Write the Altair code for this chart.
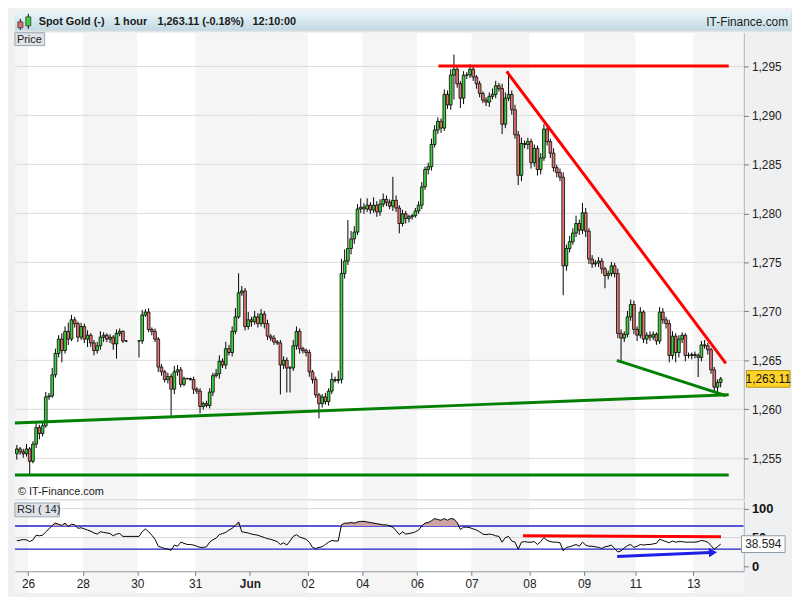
import altair as alt
import pandas as pd

# ---------------- data ----------------
closes = [
    1255.96, 1255.67, 1255.47, 1255.96, 1254.69, 1256.45, 1258.13, 1257.54, 1258.32, 1261.27,
    1261.37, 1263.53, 1265.70, 1267.17, 1266.00, 1267.96, 1267.17, 1269.14, 1268.75, 1267.37,
    1268.45, 1267.17, 1267.57, 1266.78, 1266.00, 1266.49, 1267.37, 1267.57, 1267.17, 1267.37,
    1266.68, 1267.76, 1267.96, 1266.98, 1266.98, None, None, None, 1266.98, 1269.63,
    1269.93, 1268.16, 1267.96, 1267.17, 1264.32, 1263.83, 1263.04, 1263.34, 1262.06, 1263.83,
    1264.03, 1262.55, 1263.14, 1263.14, 1263.04, 1262.06, 1261.86, 1260.29, 1260.58, 1260.39,
    1261.76, 1263.44, 1263.63, 1264.91, 1264.52, 1266.19, 1265.80, 1267.96, 1269.44, 1271.89,
    1272.09, 1268.45, 1269.14, 1268.94, 1269.44, 1268.75, 1269.73, 1268.75, 1267.47, 1267.27,
    1266.88, 1266.78, 1264.52, 1265.01, 1264.22, 1264.22, 1266.49, 1267.96, 1266.19, 1266.00,
    1265.80, 1263.83, 1263.04, 1261.47, 1260.58, 1261.27, 1260.78, 1261.86, 1263.04, 1262.94,
    1263.04, 1273.86, 1275.14, 1276.42, 1277.40, 1278.09, 1280.45, 1280.64, 1280.45, 1280.84,
    1280.35, 1280.84, 1280.15, 1280.94, 1281.43, 1281.14, 1280.74, 1281.33, 1280.55, 1278.97,
    1279.96, 1279.47, 1279.66, 1279.76, 1280.25, 1280.84, 1282.71, 1284.48, 1284.77, 1287.04,
    1288.51, 1289.40, 1288.71, 1292.15, 1291.07, 1294.12, 1294.71, 1293.23, 1291.76, 1294.12,
    1294.12, 1294.71, 1293.92, 1293.23, 1292.25, 1291.56, 1291.36, 1291.95, 1292.15, 1293.03,
    1292.74, 1289.10, 1291.76, 1292.15, 1290.58, 1288.02, 1283.89, 1287.14, 1287.04, 1287.33,
    1285.17, 1286.64, 1284.48, 1285.66, 1288.61, 1287.33, 1286.15, 1284.67, 1284.18, 1283.69,
    1274.65, 1276.42, 1277.11, 1277.99, 1278.97, 1278.29, 1280.06, 1278.19, 1275.34, 1274.84,
    1274.94, 1275.14, 1274.35, 1273.66, 1273.86, 1274.65, 1273.86, 1267.76, 1267.27, 1267.66,
    1269.44, 1270.71, 1268.16, 1267.57, 1269.93, 1267.17, 1267.57, 1267.37, 1267.66, 1266.98,
    1269.93, 1269.14, 1268.75, 1265.50, 1267.47, 1265.80, 1267.17, 1267.57, 1265.50, 1265.50,
    1265.60, 1265.50, 1265.30, 1266.58, 1266.49, 1266.09, 1264.03, 1262.26, 1262.75, 1263.11,
]
first_open = 1255.47

wick_up = [
    0.4, 0.2, 0.3, 0.5, 0.2, 0.3, 0.6, 0.3, 0.4, 0.5,
    0.3, 0.7, 0.5, 0.4, 0.6, 0.5, 0.9, 0.5, 0.3, 0.2,
    0.4, 0.3, 0.5, 0.2, 0.3, 0.4, 0.6, 0.3, 0.2, 0.3,
    0.2, 0.4, 0.3, 0.1, 0.1, 0, 0, 0, 0.1, 0.5,
    0.3, 0.4, 0.2, 0.3, 0.2, 0.3, 0.2, 0.4, 0.3, 0.6,
    0.5, 0.3, 0.2, 0.1, 0.1, 0.3, 0.2, 0.3, 0.2, 0.3,
    0.4, 0.3, 0.5, 0.6, 0.3, 0.7, 0.4, 0.5, 0.9, 2.0,
    0.5, 0.3, 0.8, 0.3, 0.6, 0.4, 0.5, 0.3, 0.4, 0.2,
    0.3, 0.2, 0.3, 0.4, 0.3, 0.2, 0.6, 0.5, 0.3, 0.2,
    0.2, 0.3, 0.2, 0.3, 0.2, 0.3, 0.4, 0.3, 0.7, 0.3,
    0.9, 1.5, 1.2, 2.9, 0.8, 0.6, 0.5, 0.9, 0.4, 0.7,
    0.3, 0.8, 0.4, 0.5, 0.6, 0.4, 0.3, 2.4, 0.5, 0.3,
    0.4, 0.3, 0.2, 0.2, 0.3, 0.4, 0.5, 0.3, 0.4, 0.6,
    0.5, 0.4, 0.3, 0.5, 0.4, 0.6, 1.5, 0.4, 0.3, 0.4,
    0.3, 0.5, 0.3, 0.2, 0.3, 0.2, 0.3, 0.4, 0.6, 0.5,
    0.3, 0.5, 0.6, 2.3, 0.4, 0.5, 0.4, 0.6, 0.3, 0.4,
    0.3, 0.4, 0.3, 0.5, 0.5, 0.4, 0.3, 0.5, 0.3, 0.4,
    0.5, 0.4, 0.6, 0.5, 0.8, 0.4, 1.0, 0.5, 0.3, 0.4,
    0.3, 0.4, 0.3, 0.2, 0.3, 0.4, 0.3, 0.5, 0.4, 0.3,
    0.6, 0.5, 0.4, 0.3, 0.5, 0.2, 0.3, 0.4, 0.3, 0.2,
    0.5, 0.4, 0.3, 0.4, 0.5, 0.3, 0.4, 0.3, 0.2, 0.3,
    0.2, 0.3, 0.2, 0.4, 0.5, 0.3, 0.2, 0.3, 0.3, 0.2,
]
wick_dn = [
    0.6, 0.3, 0.4, 0.3, 1.3, 0.2, 0.4, 0.6, 0.3, 0.2,
    0.3, 0.2, 0.3, 0.4, 1.2, 0.3, 0.6, 0.2, 0.4, 0.5,
    0.3, 0.4, 0.8, 0.4, 0.5, 0.3, 0.4, 0.5, 0.3, 0.4,
    0.6, 1.5, 0.3, 0.2, 0.1, 0, 0, 0, 1.7, 0.3,
    0.2, 0.3, 0.4, 0.3, 0.5, 0.4, 0.3, 0.4, 2.7, 0.5,
    0.4, 0.3, 0.2, 0.1, 0.1, 0.5, 0.3, 0.7, 0.3, 0.2,
    0.3, 0.4, 0.2, 0.5, 0.3, 0.4, 0.3, 0.4, 0.3, 0.2,
    0.3, 0.4, 0.3, 0.5, 0.3, 0.4, 0.3, 0.5, 0.4, 0.3,
    0.3, 0.2, 3.0, 0.4, 2.5, 2.5, 0.3, 0.4, 0.5, 0.3,
    0.4, 0.5, 0.4, 0.3, 1.5, 0.4, 0.3, 0.4, 0.3, 0.2,
    0.3, 0.4, 0.5, 0.4, 0.6, 0.5, 0.3, 0.4, 0.5, 0.3,
    0.4, 0.3, 0.5, 0.4, 0.3, 0.4, 0.3, 0.5, 0.4, 1.0,
    0.3, 0.5, 0.4, 0.3, 0.2, 0.3, 0.4, 0.3, 0.5, 0.4,
    0.3, 0.4, 0.5, 0.3, 0.4, 0.5, 2.5, 0.4, 1.0, 0.6,
    0.4, 0.3, 0.4, 0.5, 0.4, 0.3, 0.4, 0.5, 0.3, 0.4,
    0.3, 1.0, 0.4, 0.3, 0.5, 0.4, 1.0, 0.6, 0.4, 0.5,
    0.6, 0.4, 0.6, 0.5, 0.3, 0.4, 0.5, 0.4, 0.5, 0.4,
    3.0, 0.5, 0.4, 0.3, 0.4, 0.5, 0.4, 0.6, 0.5, 0.4,
    0.3, 0.4, 0.5, 1.3, 0.4, 0.3, 0.4, 0.5, 2.3, 0.4,
    0.3, 0.4, 0.5, 0.6, 0.3, 0.4, 0.5, 0.4, 0.3, 0.4,
    0.3, 0.4, 0.5, 0.7, 0.4, 1.0, 0.5, 0.4, 0.6, 0.3,
    0.4, 0.3, 2.0, 0.4, 0.3, 0.5, 0.4, 0.4, 0.5, 0.5,
]
rsi_vals = [
    44.5, 45.5, 46.5, 46, 43, 46, 54, 53, 54, 60,
    65, 71, 75, 73, 71, 75, 69, 73, 72, 66,
    67, 65, 63, 61, 58, 56, 60, 59, 58, 57,
    53, 56, 57, 52, 52, None, None, None, 52, 60,
    65, 60, 54, 47, 35, 33, 31, 30, 28, 37,
    35, 42, 40, 38, 38, 37, 35, 33, 33, 34,
    42, 46, 49, 55, 57, 59, 63, 66, 71, 77,
    60, 59, 58, 56, 55, 54, 52, 50, 48, 47,
    45, 43, 38, 41, 37, 44, 52, 55, 51, 49,
    47, 42, 33, 31, 33, 34, 38, 42, 45, 44,
    44, 72, 75, 75, 76, 75, 77, 78, 78, 77,
    76, 75, 74, 73, 72, 72, 70, 68, 62, 55,
    60, 56, 57, 58, 60, 63, 70, 75, 76, 79,
    83, 81, 80, 83, 80, 83, 82, 76, 64, 68,
    68, 67, 65, 63, 60, 56, 55, 56, 55, 53,
    52, 42, 50, 52, 44, 42, 30, 42, 43, 42,
    42, 43, 38, 43, 50, 45, 43, 42, 42, 41,
    27, 33, 34, 36, 38, 35, 42, 37, 35, 35,
    34, 33, 31, 34, 35, 37, 31, 25, 27, 32,
    36, 38, 33, 35, 38, 37, 38, 38, 39, 40,
    47, 45, 43, 41, 44, 42, 43, 43, 42, 42,
    42, 42, 43, 45, 44, 42, 36, 30, 34, 38.594,
]

day_start = [3.5, 20.5, 37.5, 55.5, 72.5, 90.5, 107.5, 124.5, 141.5, 159.5, 176.5, 192.5, 210.5]
day_labels = ["26", "28", "30", "31", "Jun", "02", "04", "06", "07", "08", "09", "11", "13"]
day_shaded = [False, True, False, True, True, False, True, False, True, False, True, False, True]
first_day_shaded = True

price_ticks = [1255, 1260, 1265, 1270, 1275, 1280, 1285, 1290, 1295]
rsi_ticks = [0, 50, 100]
rsi_levels = [70, 30]
rsi_grid = [100, 50]
last_price = 1263.11
last_rsi = 38.594

# trend lines drawn on the price panel
tl_seg = ["top", "top", "fall", "fall", "rise", "rise", "floor", "floor", "wedge", "wedge"]
tl_i = [131.2, 221.5, 152.4, 220.6, -0.6, 221.5, -0.6, 221.5, 186.7, 220.6]
tl_p = [1295.05, 1295.05, 1294.5, 1264.7, 1258.6, 1261.5, 1253.3, 1253.3, 1265.0, 1261.4]
tl_col = ["#ff0000"] * 4 + ["#008000"] * 6

# lines on the RSI panel
rl_seg = ["red", "red", "blue", "blue"]
rl_i = [157.5, 219.1, 186.8, 215.8]
rl_v = [53.3, 51.5, 17.2, 24.2]
rl_col = ["#ff0000", "#ff0000", "#1f1fe6", "#1f1fe6"]
arrow_i = [216.6]
arrow_v = [24.4]

X_MIN, X_MAX = -0.6, 226.1
P_MIN, P_MAX = 1250.85, 1298.44
R_MIN, R_MAX = -8.3, 113.3

W = 736
H = 471
H2 = 71
HDR = 19
FONT = "Liberation Sans"
GREEN = "#3fd23f"
RED = "#e47474"
BAND = "#f5f5f5"

# ---------------- tables ----------------
rows = []
prev = None
for i, c in enumerate(closes):
    if c is None:
        continue
    o = first_open if prev is None else prev
    hi = max(o, c) + wick_up[i]
    lo = min(o, c) - wick_dn[i]
    rows.append(dict(i=i, xl=i - 0.42, xr=i + 0.42, open=o, close=c, high=hi, low=lo,
                     col=GREEN if c >= o else RED))
    prev = c
candles = pd.DataFrame(rows)

bounds = [X_MIN] + day_start + [X_MAX]
shade = [first_day_shaded] + day_shaded
bands = pd.DataFrame([dict(x0=bounds[k], x1=bounds[k + 1]) for k in range(len(shade)) if shade[k]])

rsi_rows = []
for i, v in enumerate(rsi_vals):
    if v is None:
        continue
    rsi_rows.append(dict(i=i, v=v, top=max(v, 70), base=70))
rsi_df = pd.DataFrame(rsi_rows)

tl_df = pd.DataFrame(dict(seg=tl_seg, i=tl_i, p=tl_p, col=tl_col))
rl_df = pd.DataFrame(dict(seg=rl_seg, i=rl_i, v=rl_v, col=rl_col))
arrow_df = pd.DataFrame(dict(i=arrow_i, v=arrow_v))
pgrid = pd.DataFrame(dict(p=price_ticks))
rgrid = pd.DataFrame(dict(v=rsi_grid))
rlev = pd.DataFrame(dict(v=rsi_levels))
lastp = pd.DataFrame(dict(p=[last_price], lo=[last_price - 0.85], hi=[last_price + 0.85],
                          lbl=[f"{last_price:,.2f}"]))
lastr = pd.DataFrame(dict(v=[last_rsi], lo=[last_rsi - 14.5], hi=[last_rsi + 14.5],
                          lbl=[f"{last_rsi:.3f}"]))
one = pd.DataFrame(dict(a=[0]))

# ---------------- scales / axes ----------------
xs = alt.Scale(domain=[X_MIN, X_MAX], nice=False, zero=False)
ys = alt.Scale(domain=[P_MIN, P_MAX], nice=False, zero=False)
rs = alt.Scale(domain=[R_MIN, R_MAX], nice=False, zero=False)

yax = alt.Axis(orient="right", values=price_ticks, format=",", grid=False, tickSize=5,
               tickColor="#6f7a82", domainColor="#8d99a3", labelColor="#222",
               labelFontSize=12, labelFont=FONT, labelPadding=3, title=None)
ryax = alt.Axis(orient="right", values=rsi_ticks, grid=False, tickSize=5,
                tickColor="#6f7a82", domainColor="#8d99a3", labelColor="#111",
                labelFontSize=13, labelFontWeight="bold", labelFont=FONT, labelPadding=3,
                title=None)
lbl_expr = "[" + ",".join(f"'{s}'" for s in day_labels) + "][indexof([" + \
    ",".join(str(v) for v in day_start) + "], datum.value)]"
jun_pos = day_start[day_labels.index("Jun")]
xax = alt.Axis(values=day_start, labelExpr=lbl_expr, grid=False, tickSize=4,
               tickColor="#6f7a82", domainColor="#8d99a3", labelColor="#222",
               labelFontSize=12, labelFont=FONT, labelPadding=3, labelOverlap=False,
               labelFlush=False, zindex=1, title=None,
               labelFontWeight={"condition": {"test": f"datum.value == {jun_pos}", "value": "bold"},
                                "value": "normal"})

X = lambda f: alt.X(f, scale=xs, axis=None)
Y = lambda f: alt.Y(f, scale=ys, axis=yax)
XR = lambda f: alt.X(f, scale=xs, axis=xax)
YR = lambda f: alt.Y(f, scale=rs, axis=ryax)

# ---------------- header ----------------
grad = alt.Gradient(gradient="linear",
                    stops=[alt.GradientStop(color="#e7f6fb", offset=0),
                           alt.GradientStop(color="#c3d8e1", offset=1)],
                    x1=0, x2=0, y1=0, y2=1)
hb = alt.Chart(one)
htxt = dict(align="left", baseline="middle", font=FONT, fontSize=11, fontWeight="bold", color="#1a1a1a")
header = alt.layer(
    hb.mark_rect(fill=grad).encode(x=alt.value(0), x2=alt.value(784), y=alt.value(0), y2=alt.value(HDR)),
    hb.mark_rule(color="#000", strokeWidth=1).encode(x=alt.value(5.5), y=alt.value(7), y2=alt.value(18)),
    hb.mark_rect(fill="#e86a6a", stroke="#333", strokeWidth=0.8).encode(
        x=alt.value(3), x2=alt.value(8), y=alt.value(10), y2=alt.value(16)),
    hb.mark_rule(color="#000", strokeWidth=1).encode(x=alt.value(13.5), y=alt.value(2), y2=alt.value(17)),
    hb.mark_rect(fill="#3fd23f", stroke="#333", strokeWidth=0.8).encode(
        x=alt.value(11), x2=alt.value(16), y=alt.value(5), y2=alt.value(14)),
    hb.mark_text(**htxt).encode(x=alt.value(24), y=alt.value(10), text=alt.value("Spot Gold (-)")),
    hb.mark_text(**htxt).encode(x=alt.value(100), y=alt.value(10), text=alt.value("1 hour")),
    hb.mark_text(**htxt).encode(x=alt.value(144), y=alt.value(10), text=alt.value("1,263.11 (-0.18%)")),
    hb.mark_text(**htxt).encode(x=alt.value(240), y=alt.value(10), text=alt.value("12:10:00")),
    hb.mark_text(align="right", baseline="middle", font=FONT, fontSize=12,
                 color="#1a1a1a").encode(x=alt.value(781), y=alt.value(10), text=alt.value("IT-Finance.com")),
).properties(width=784, height=HDR)

# ---------------- price panel ----------------
price = alt.layer(
    alt.Chart(one).mark_rect(fill="white").encode(
        x=alt.value(0), x2=alt.value(W), y=alt.value(0), y2=alt.value(H)),
    alt.Chart(bands).mark_rect(color=BAND).encode(
        x=X("x0:Q"), x2="x1:Q", y=alt.value(0), y2=alt.value(H)),
    alt.Chart(pgrid).mark_rule(color="#dcdcdc", strokeWidth=1).encode(y=Y("p:Q")),
    alt.Chart(candles).mark_rule(color="#000", strokeWidth=1).encode(
        x=X("i:Q"), y=Y("low:Q"), y2="high:Q"),
    alt.Chart(candles).mark_rect(stroke="#000", strokeWidth=0.8).encode(
        x=X("xl:Q"), x2="xr:Q", y=Y("open:Q"), y2="close:Q",
        color=alt.Color("col:N", scale=None)),
    alt.Chart(tl_df).mark_line(strokeWidth=3).encode(
        x=X("i:Q"), y=Y("p:Q"), detail="seg:N", color=alt.Color("col:N", scale=None)),
    alt.Chart(one).mark_rect(fill="#dde3e8", stroke="#9aa5ad").encode(
        x=alt.value(0), x2=alt.value(30), y=alt.value(0), y2=alt.value(13)),
    alt.Chart(one).mark_text(align="left", baseline="middle", font=FONT, fontSize=11, color="#222").encode(
        x=alt.value(2), y=alt.value(7), text=alt.value("Price")),
    alt.Chart(one).mark_text(align="left", baseline="middle", font=FONT, fontSize=11, color="#222").encode(
        x=alt.value(3), y=alt.value(H - 7), text=alt.value("\u00a9 IT-Finance.com")),
    alt.Chart(lastp).mark_rect(fill="#ffd42a", stroke="#b8940a", strokeWidth=1).encode(
        x=alt.value(W + 3), x2=alt.value(W + 47), y=Y("lo:Q"), y2="hi:Q"),
    alt.Chart(lastp).mark_text(align="center", baseline="middle", font=FONT, fontSize=12, color="#111").encode(
        x=alt.value(W + 25), y=Y("p:Q"), text="lbl:N"),
).properties(width=W, height=H)

# ---------------- RSI panel ----------------
rsi = alt.layer(
    alt.Chart(one).mark_rect(fill="white").encode(
        x=alt.value(0), x2=alt.value(W), y=alt.value(0), y2=alt.value(H2 + 22)),
    alt.Chart(bands).mark_rect(color=BAND).encode(
        x=XR("x0:Q"), x2="x1:Q", y=alt.value(0), y2=alt.value(H2 + 22)),
    alt.Chart(rgrid).mark_rule(color="#d6d6d6", strokeWidth=1).encode(y=YR("v:Q")),
    alt.Chart(rlev).mark_rule(color="#2020c8", strokeWidth=1.3).encode(y=YR("v:Q")),
    alt.Chart(rsi_df).mark_area(color="#cfa3a3", opacity=1).encode(
        x=XR("i:Q"), y=YR("top:Q"), y2="base:Q"),
    alt.Chart(rsi_df).mark_line(color="#000", strokeWidth=1).encode(x=XR("i:Q"), y=YR("v:Q")),
    alt.Chart(rl_df).mark_line(strokeWidth=3).encode(
        x=XR("i:Q"), y=YR("v:Q"), detail="seg:N", color=alt.Color("col:N", scale=None)),
    alt.Chart(arrow_df).mark_point(shape="triangle-right", filled=True, size=90, color="#1f1fe6",
                                   opacity=1, angle=357).encode(x=XR("i:Q"), y=YR("v:Q")),
    alt.Chart(one).mark_rect(fill="#dde3e8", stroke="#9aa5ad").encode(
        x=alt.value(0), x2=alt.value(45), y=alt.value(2), y2=alt.value(16)),
    alt.Chart(one).mark_text(align="left", baseline="middle", font=FONT, fontSize=11, color="#222").encode(
        x=alt.value(2), y=alt.value(9), text=alt.value("RSI ( 14)")),
    alt.Chart(lastr).mark_rect(fill="white", stroke="#8d99a3", strokeWidth=1).encode(
        x=alt.value(W - 2), x2=alt.value(W + 42), y=YR("lo:Q"), y2="hi:Q"),
    alt.Chart(lastr).mark_text(align="center", baseline="middle", font=FONT, fontSize=12, color="#222").encode(
        x=alt.value(W + 20), y=YR("v:Q"), text="lbl:N"),
).properties(width=W, height=H2)

chart = alt.vconcat(header, price, rsi, spacing=0).properties(
    padding=0, background="#eef0f2"
).configure_view(stroke="#9aa5ad", fill="white").configure(font=FONT)

chart.save("out.html", embed_options={"renderer": "svg", "actions": False})
